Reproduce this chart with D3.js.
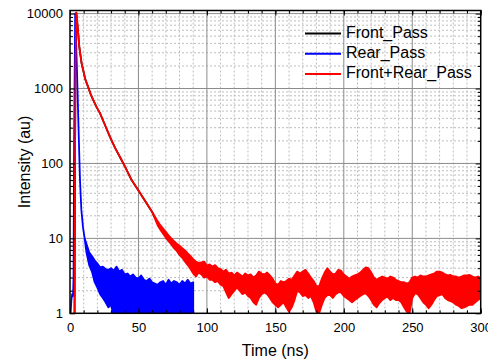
<!DOCTYPE html>
<html>
<head>
<meta charset="utf-8">
<script src="https://cdn.jsdelivr.net/npm/d3@7"></script>
<style>
  html, body { margin: 0; padding: 0; background: #fff; }
  svg { display: block; font-family: "Liberation Sans", Arial, sans-serif; }
</style>
</head>
<body>
<svg id="chart" width="488" height="361"></svg>
<script>
// axis ticks
const xTicks = [0, 50, 100, 150, 200, 250, 300];
const yTicks = [1, 10, 100, 1000, 10000];

// Front_Pass (sits under the red curve)
const frontTime  = [3.3, 3.6, 4.0, 4.6, 5.6, 6.8, 8.5, 9.7, 11, 12.2, 13.4, 15, 17, 19.5, 21.9, 25, 29.2, 33, 36.5, 40, 45, 50, 55, 60, 64];
const frontValue = [0.5, 50, 2000, 10300, 6650, 3590, 2150, 1740, 1360, 1180, 1030, 850, 698, 560, 470, 344, 226, 160, 122, 92, 60, 43.5, 31.4, 22.5, 16];

// Rear_Pass: fast decay, then noisy tail (min/max per 2 ns bin)
const rearDecayTime  = [0.3, 1.0, 1.6, 2.2, 2.6, 3.0, 3.8, 4.5, 5.2, 5.9, 6.6, 7.3, 8.3, 9.5, 10.7];
const rearDecayValue = [0.9, 1.5, 1.8, 1.7, 3, 200, 10000, 4000, 1500, 500, 170, 60, 24, 14, 10];
const rearTailStart = 12;
const rearTailHigh = [8.5, 6.5, 5.8, 5.1, 4.6, 4.1, 4.2, 3.9, 3.8, 4.0,
                      3.7, 4.2, 3.6, 3.8, 3.3, 3.4, 3.1, 3.3, 3.0, 2.9,
                      3.2, 2.8, 2.7, 2.9, 2.6, 2.5, 2.4, 2.6, 2.7, 2.4,
                      2.8, 2.5, 2.7, 2.6, 2.4, 2.7, 2.5, 2.8, 2.5, 2.6];
const rearTailLow  = [6.5, 4.4, 3.6, 2.6, 2.2, 1.8, 1.6, 1.4, 1.2, 1.3,
                      0.9, 0.5, 0.5, 0.5, 0.5, 0.5, 0.5, 0.5, 0.5, 0.5,
                      0.5, 0.5, 0.5, 0.5, 0.5, 0.5, 1.4, 0.5, 0.5, 0.5,
                      0.5, 0.5, 0.5, 0.5, 0.5, 0.5, 0.5, 0.5, 0.5, 0.5];

// Front+Rear_Pass: decay, then noisy tail (min/max per 2 ns bin)
const sumDecayTime  = [3.3, 3.6, 4.0, 4.6, 5.6, 6.8, 8.5, 9.7, 11, 12.2, 13.4, 15, 17, 19.5, 21.9, 25, 29.2, 33, 36.5, 40, 45, 50, 55, 60];
const sumDecayValue = [0.5, 50, 2000, 10300, 6650, 3590, 2150, 1740, 1360, 1180, 1030, 850, 698, 560, 470, 344, 226, 160, 122, 92, 60, 43.5, 31.4, 22.5];
const sumTailStart = 64;
const sumTailHigh = [17, 15, 13.5, 12.2, 11, 10, 9.2, 8.5, 8, 7.4,
                     6.9, 6.3, 5.8, 5.3, 4.9, 4.7, 4.8, 4.9, 4.3, 4.5,
                     4.2, 4.4, 4.0, 3.9, 3.6, 3.8, 3.4, 3.5, 3.2, 3.5,
                     3.3, 3.1, 3.4, 3.2, 3.3, 3.0, 3.2, 3.6, 3.4, 3.3,
                     3.5, 3.2, 2.9, 2.5, 2.4, 2.7, 2.6, 2.7, 2.9, 2.8,
                     3.2, 3.6, 3.4, 3.6, 3.8, 3.4, 3.0, 2.7, 2.3, 2.3,
                     2.9, 3.5, 4.0, 3.6, 3.3, 3.4, 3.8, 3.7, 3.3, 3.1,
                     2.9, 3.1, 3.2, 3.3, 3.5, 3.8, 4.1, 4.0, 3.5, 3.0,
                     2.8, 2.95, 3.1, 3.0, 2.9, 3.1, 3.0, 2.8, 2.7, 2.6,
                     2.6, 2.5, 2.6, 3.0, 3.1, 3.0, 3.2, 3.1, 3.1, 3.2,
                     3.3, 3.4, 3.6, 3.6, 3.5, 3.3, 3.2, 3.25, 3.1, 3.1,
                     3.0, 3.1, 3.2, 3.2, 3.25, 3.1, 3.0, 3.1, 2.95];
const sumTailLow  = [15, 13, 11.5, 10.2, 9.2, 8.3, 7.4, 6.8, 6.0, 5.5,
                     4.9, 4.4, 3.9, 3.4, 3.1, 3.5, 3.3, 3.0, 3.1, 2.8,
                     2.8, 2.6, 2.7, 2.4, 2.3, 1.9, 1.6, 1.8, 2.0, 2.2,
                     2.0, 1.8, 1.9, 1.7, 1.6, 1.4, 1.3, 1.6, 1.8, 1.9,
                     1.8, 1.6, 1.4, 1.3, 1.2, 1.3, 1.4, 1.2, 1.05, 1.2,
                     1.5, 2.0, 1.9, 1.7, 1.75, 1.6, 1.7, 1.4, 1.05, 1.0,
                     1.3, 1.6, 1.75, 1.75, 1.6, 1.8, 1.9, 1.9, 1.7, 1.6,
                     1.5, 1.4, 1.5, 1.6, 1.7, 1.8, 1.85, 1.7, 1.5, 1.3,
                     1.2, 1.37, 1.5, 1.6, 1.67, 1.5, 1.6, 1.5, 1.5, 1.4,
                     1.2, 1.05, 1.0, 1.6, 1.85, 1.8, 1.6, 1.4, 1.3, 1.17,
                     1.3, 1.5, 1.7, 1.75, 1.8, 1.6, 1.5, 1.45, 1.4, 1.3,
                     1.25, 1.17, 1.2, 1.25, 1.3, 1.3, 1.4, 1.5, 1.6];

const legendItems = [
    { name: "Front_Pass", color: "#000000" },
    { name: "Rear_Pass", color: "#0000ff" },
    { name: "Front+Rear_Pass", color: "#ff0000" }
];

const plotLeft = 70, plotRight = 480.7, plotTop = 10.5, plotBottom = 313.3;
const svg = d3.select("#chart");

const x = d3.scaleLinear().domain([0, 300]).range([plotLeft, plotRight]);
const y = d3.scaleLog().domain([1, 11000]).range([plotBottom, plotTop]);

const xMinor = d3.range(0, 301, 10);
const yMinor = [];
yTicks.slice(0, -1).forEach(d => { for (let k = 2; k <= 9; k++) yMinor.push(d * k); });

// grid
const grid = svg.append("g");
grid.selectAll(".xminor").data(xMinor.filter(d => d % 50 !== 0)).join("line")
    .attr("x1", d => x(d)).attr("x2", d => x(d))
    .attr("y1", plotTop).attr("y2", plotBottom)
    .attr("stroke", "#bdbdbd").attr("stroke-dasharray", "2,2");
grid.selectAll(".yminor").data(yMinor).join("line")
    .attr("x1", plotLeft).attr("x2", plotRight)
    .attr("y1", d => y(d)).attr("y2", d => y(d))
    .attr("stroke", "#bdbdbd").attr("stroke-dasharray", "2,2");
grid.selectAll(".xmajor").data(xTicks.slice(1, -1)).join("line")
    .attr("x1", d => x(d)).attr("x2", d => x(d))
    .attr("y1", plotTop).attr("y2", plotBottom)
    .attr("stroke", "#8c8c8c");
grid.selectAll(".ymajor").data(yTicks.slice(1)).join("line")
    .attr("x1", plotLeft).attr("x2", plotRight)
    .attr("y1", d => y(d)).attr("y2", d => y(d))
    .attr("stroke", "#8c8c8c");

// series
svg.append("clipPath").attr("id", "plot-clip")
    .append("rect").attr("x", plotLeft).attr("y", plotTop)
    .attr("width", plotRight - plotLeft).attr("height", plotBottom - plotTop);

const band = d3.area()
    .x(d => x(d.t))
    .y0(d => y(Math.max(d.lo, 0.3)))
    .y1(d => y(Math.max(d.hi, 0.3)));

const buildSeries = (decayT, decayV, tailStart, tailHi, tailLo) => {
    const pts = decayT.map((t, i) => ({ t: t, hi: decayV[i], lo: decayV[i] }));
    tailHi.forEach((v, i) => pts.push({ t: tailStart + i * 2, hi: v, lo: tailLo[i] }));
    return pts;
};

const frontData = frontTime.map((t, i) => ({ t: t, hi: frontValue[i], lo: frontValue[i] }));
const rearData = buildSeries(rearDecayTime, rearDecayValue, rearTailStart, rearTailHigh, rearTailLow);
const sumData = buildSeries(sumDecayTime, sumDecayValue, sumTailStart, sumTailHigh, sumTailLow);

const plot = svg.append("g").attr("clip-path", "url(#plot-clip)");
[[frontData, "#000000"], [rearData, "#0000ff"], [sumData, "#ff0000"]].forEach(([data, color]) => {
    plot.append("path")
        .attr("d", band(data))
        .attr("fill", color)
        .attr("stroke", color)
        .attr("stroke-width", 1.8)
        .attr("stroke-linejoin", "round");
});

// axes with inward ticks
const fmt = d3.format("d");
const styleAxis = g => {
    g.select(".domain").remove();
    g.selectAll("text").attr("font-size", 13).attr("fill", "#000")
        .attr("font-family", "'Liberation Sans', Arial, sans-serif");
    g.selectAll("line").attr("stroke", "#000");
};

svg.append("g").attr("transform", `translate(0,${plotBottom})`)
    .call(d3.axisBottom(x).tickValues(xMinor).tickSize(-3).tickFormat("")).call(styleAxis);
svg.append("g").attr("transform", `translate(0,${plotBottom})`)
    .call(d3.axisBottom(x).tickValues(xTicks).tickSizeInner(-5).tickSizeOuter(0).tickPadding(9).tickFormat(fmt))
    .call(styleAxis);
svg.append("g").attr("transform", `translate(0,${plotTop})`)
    .call(d3.axisTop(x).tickValues(xMinor).tickSize(-3).tickFormat("")).call(styleAxis);
svg.append("g").attr("transform", `translate(0,${plotTop})`)
    .call(d3.axisTop(x).tickValues(xTicks).tickSize(-5).tickFormat("")).call(styleAxis);

svg.append("g").attr("transform", `translate(${plotLeft},0)`)
    .call(d3.axisLeft(y).tickValues(yMinor).tickSize(-3).tickFormat("")).call(styleAxis);
svg.append("g").attr("transform", `translate(${plotLeft},0)`)
    .call(d3.axisLeft(y).tickValues(yTicks).tickSizeInner(-5).tickSizeOuter(0).tickPadding(7).tickFormat(fmt))
    .call(styleAxis);
svg.append("g").attr("transform", `translate(${plotRight},0)`)
    .call(d3.axisRight(y).tickValues(yMinor).tickSize(-3).tickFormat("")).call(styleAxis);
svg.append("g").attr("transform", `translate(${plotRight},0)`)
    .call(d3.axisRight(y).tickValues(yTicks).tickSize(-5).tickFormat("")).call(styleAxis);

// frame
svg.append("rect")
    .attr("x", plotLeft).attr("y", plotTop)
    .attr("width", plotRight - plotLeft).attr("height", plotBottom - plotTop)
    .attr("fill", "none").attr("stroke", "#000").attr("stroke-width", 1.5);

// axis titles
svg.append("text")
    .attr("x", (plotLeft + plotRight) / 2).attr("y", 356)
    .attr("text-anchor", "middle").attr("font-size", 16)
    .text("Time (ns)");
svg.append("text")
    .attr("transform", `translate(30,${(plotTop + plotBottom) / 2}) rotate(-90)`)
    .attr("text-anchor", "middle").attr("font-size", 16)
    .text("Intensity (au)");

// legend
const legend = svg.append("g").attr("transform", "translate(305,33.5)");
legendItems.forEach((item, i) => {
    legend.append("line")
        .attr("x1", 0).attr("x2", 36)
        .attr("y1", i * 20.3).attr("y2", i * 20.3)
        .attr("stroke", item.color).attr("stroke-width", 2);
    legend.append("text")
        .attr("x", 41).attr("y", i * 20.3)
        .attr("dominant-baseline", "middle")
        .attr("font-size", 16)
        .text(item.name);
});
</script>
</body>
</html>
